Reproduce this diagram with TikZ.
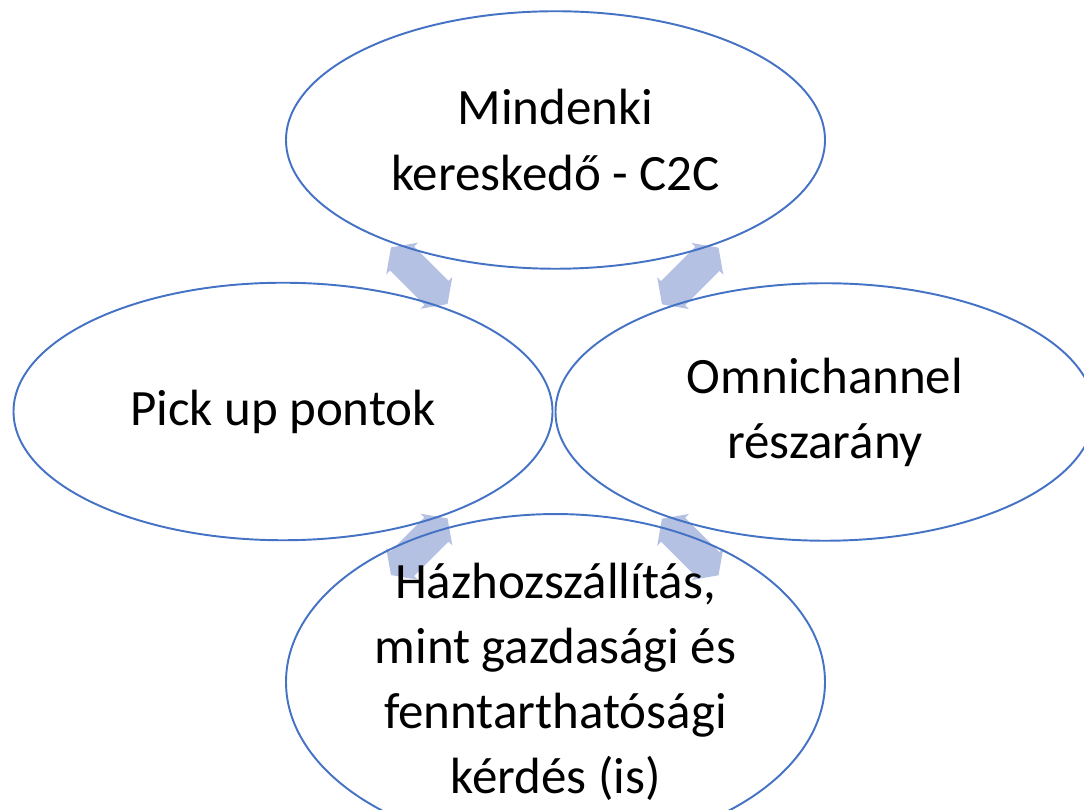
\documentclass[tikz,border=0pt]{standalone}
\usepackage{fontspec}
\setmainfont{Carlito}
\usetikzlibrary{shapes.geometric,shapes.arrows,calc,backgrounds}
\definecolor{ringblue}{RGB}{68,114,196}
\definecolor{arrowfill}{RGB}{180,193,226}
\begin{document}
\begin{tikzpicture}[
  bubble/.style={ellipse,draw=ringblue,line width=1.1pt,minimum width=10.78cm,minimum height=5.15cm,inner sep=0pt,
    align=center,font=\fontsize{29}{37}\selectfont},
  twoway/.style={double arrow,fill=arrowfill,draw=none,minimum height=1.6cm,minimum width=0.9cm,
    double arrow head extend=0.1cm,double arrow tip angle=110,inner xsep=0pt,inner ysep=0.3cm}]
  \useasboundingbox (0,0) rectangle (21.68,16.2);

  \node[bubble] (top) at (11.11,13.4){Mindenki\\kereskedő - C2C};
  \node[bubble] (left) at (5.66,7.97){Pick up pontok};
  \node[bubble] (right) at (16.5,7.96){Omnichannel\\részarány};
  \node[bubble] (bottom) at (11.11,2.56){Házhozszállítás,\\mint gazdasági és\\fenntarthatósági\\kérdés (is)};

  \begin{scope}[on background layer]
  \node[twoway,rotate=-45] (tl) at ($(top)!0.5!(left)$){};
  \node[twoway,rotate=45] (tr) at ($(top)!0.5!(right)$){};
  \node[twoway,rotate=45] (bl) at ($(left)!0.5!(bottom)$){};
  \node[twoway,rotate=-45] (br) at ($(right)!0.5!(bottom)$){};
  \end{scope}
\end{tikzpicture}
\end{document}
